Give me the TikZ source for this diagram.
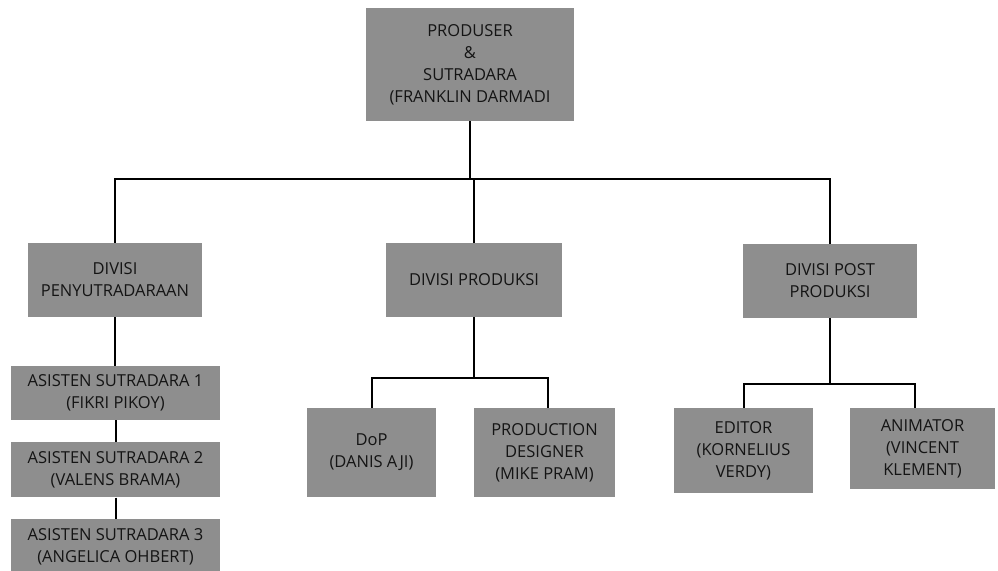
\documentclass[tikz,border=0pt]{standalone}
\usepackage{fontspec}
\setmainfont{Open Sans}
\usepackage{tikz}
\usetikzlibrary{positioning}

\definecolor{boxgray}{HTML}{8E8E8E}

\tikzset{
	orgbox/.style={fill=boxgray, text=black!92, align=center, inner sep=2pt,
		font=\fontsize{16.5}{22}\selectfont},
	link/.style={line width=2pt, black}
}

\begin{document}
\begin{tikzpicture}[x=1pt, y=-1pt]
	\useasboundingbox (0,0) rectangle (998,570);
	% pimpinan
	\node (top) [orgbox, minimum width=208pt, minimum height=113pt] at (470,64.5)
		{PRODUSER\\\&\\SUTRADARA\\(FRANKLIN DARMADI};
	% divisi
	\node (divsut) [orgbox, minimum width=174pt, minimum height=74pt] at (115,280)
		{DIVISI\\PENYUTRADARAAN};
	\node (divprod) [orgbox, minimum width=176pt, minimum height=74pt] at (474,280)
		{DIVISI PRODUKSI};
	\node (divpost) [orgbox, minimum width=174pt, minimum height=74pt] at (830,281)
		{DIVISI POST\\PRODUKSI};
	% asisten sutradara
	\node (asis1) [orgbox, minimum width=209pt, minimum height=54pt] at (115.5,393)
		{ASISTEN SUTRADARA 1\\(FIKRI PIKOY)};
	\node (asis2) [orgbox, minimum width=209pt, minimum height=55pt, below=22pt of asis1]
		{ASISTEN SUTRADARA 2\\(VALENS BRAMA)};
	\node (asis3) [orgbox, minimum width=209pt, minimum height=56pt, below=21pt of asis2]
		{ASISTEN SUTRADARA 3\\(ANGELICA OHBERT)};
	% produksi
	\node (dop) [orgbox, minimum width=129pt, minimum height=89pt] at (371.5,452.5)
		{DoP\\(DANIS AJI)};
	\node (prodes) [orgbox, minimum width=141pt, minimum height=89pt] at (544.5,452.5)
		{PRODUCTION\\DESIGNER\\(MIKE PRAM)};
	% post produksi
	\node (editor) [orgbox, minimum width=139pt, minimum height=85pt] at (743.5,450.5)
		{EDITOR\\(KORNELIUS\\VERDY)};
	\node (anim) [orgbox, minimum width=145pt, minimum height=81pt] at (922.5,448.5)
		{ANIMATOR\\(VINCENT\\KLEMENT)};

	% garis
	\coordinate (j0) at (470,179);
	\coordinate (j1) at (474,378);
	\coordinate (j2) at (830,384);
	\draw[link] (top.south) -- (j0);
	\draw[link] (j0) -| (divsut.north);
	\draw[link] (j0) -| (divprod.north);
	\draw[link] (j0) -| (divpost.north);
	\draw[link] (divsut.south) -- (divsut.south |- asis1.north);
	\draw[link] (asis1.south) -- (asis1.south |- asis2.north);
	\draw[link] (asis2.south) -- (asis2.south |- asis3.north);
	\draw[link] (divprod.south) -- (j1); \draw[link] (j1) -| (dop.north);
	\draw[link] (j1) -| ([xshift=3.5pt]prodes.north);
	\draw[link] (divpost.south) -- (j2); \draw[link] (j2) -| (editor.north);
	\draw[link] (j2) -| ([xshift=-7.5pt]anim.north);
\end{tikzpicture}
\end{document}
